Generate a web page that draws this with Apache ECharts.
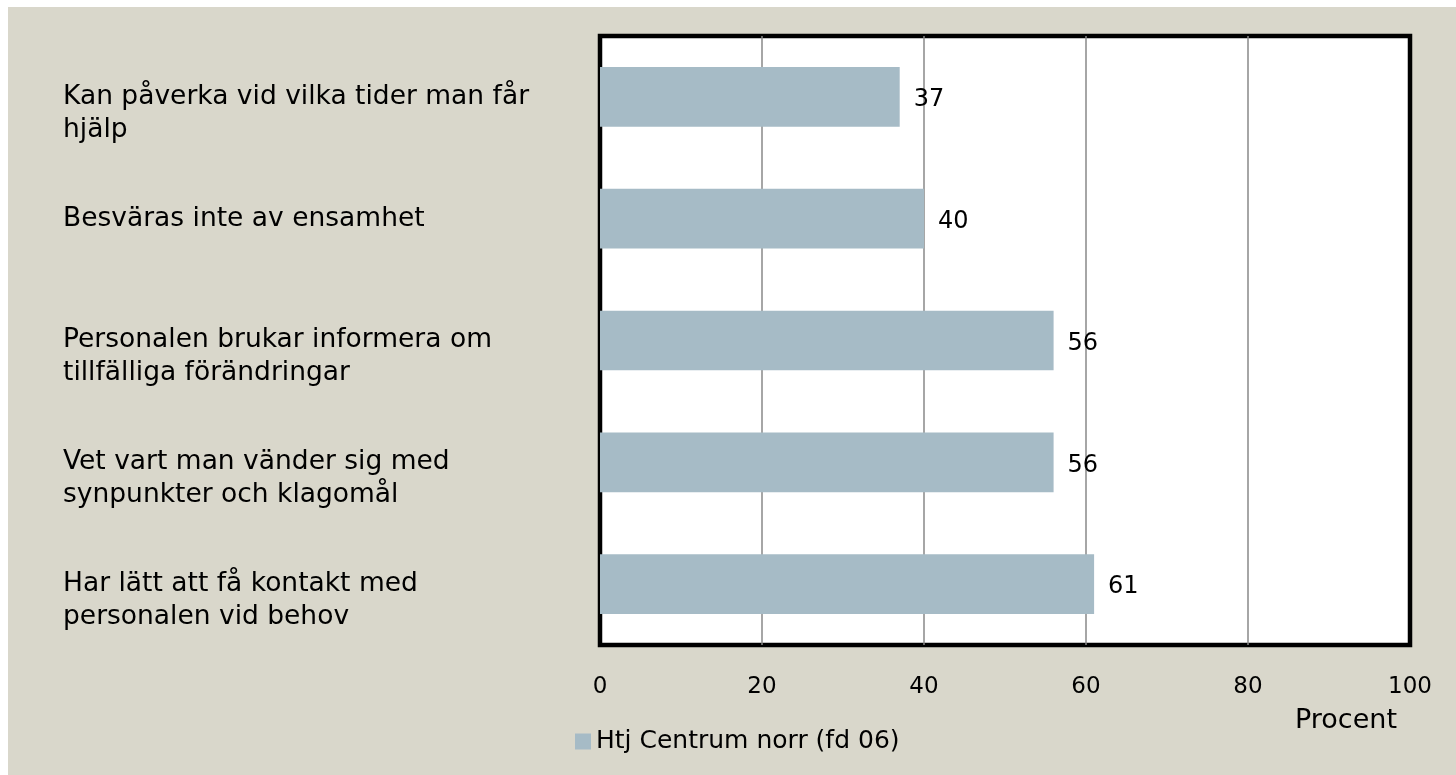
<!DOCTYPE html>
<html>
<head>
<meta charset="utf-8">
<script src="https://cdn.jsdelivr.net/npm/echarts@6/dist/echarts.min.js"></script>
<style>
	html, body { margin: 0; padding: 0; background: #fff; }
	#bar { position: absolute; left: 8px; top: 7px; width: 1448px; height: 768px; }
</style>
</head>
<body>
<div id="bar"></div>
<script>
var categories = [
	'Kan påverka vid vilka tider man får\nhjälp',
	'Besväras inte av ensamhet',
	'Personalen brukar informera om\ntillfälliga förändringar',
	'Vet vart man vänder sig med\nsynpunkter och klagomål',
	'Har lätt att få kontakt med\npersonalen vid behov'
];
var values = [37, 40, 56, 56, 61];
var seriesName = 'Htj Centrum norr (fd 06)';
var xTicks = [0, 20, 40, 60, 80, 100];
var axisTitle = 'Procent';

var font = 'DejaVu Sans';

var myChart = echarts.init(document.getElementById('bar'));

var option = {
	backgroundColor: '#d9d7cb',
	textStyle: { fontFamily: font },
	grid: {
		left: 592,
		top: 29,
		right: 46,
		bottom: 130,
		show: true,
		backgroundColor: '#ffffff',
		borderColor: '#000000',
		borderWidth: 4.5
	},
	legend: {
		left: 567,
		top: 722,
		padding: 0,
		icon: 'rect',
		itemWidth: 16,
		itemHeight: 16,
		itemGap: 7,
		textStyle: { fontFamily: font, fontSize: 25, color: '#000' },
		data: [seriesName]
	},
	graphic: [{
		type: 'text',
		left: 1287,
		top: 700,
		style: { text: axisTitle, font: '27px "' + font + '"', fill: '#000' }
	}],
	xAxis: {
		type: 'value',
		min: xTicks[0],
		max: xTicks[xTicks.length - 1],
		interval: 20,
		axisLine: { show: false },
		axisTick: { show: false },
		axisLabel: { fontSize: 23, color: '#000', margin: 31, fontFamily: font },
		splitLine: {
			show: true,
			showMinLine: false,
			showMaxLine: false,
			lineStyle: { color: '#888888', width: 1.5 }
		}
	},
	yAxis: {
		type: 'category',
		inverse: true,
		data: categories,
		axisLine: { show: false },
		axisTick: { show: false },
		axisLabel: {
			align: 'left',
			margin: 537,
			fontSize: 26.5,
			lineHeight: 33,
			padding: [14, 0, 0, 0],
			color: '#000',
			fontFamily: font,
			formatter: function (v) {
				return v.indexOf('\n') >= 0 ? '\n' + v : v;
			}
		}
	},
	series: [{
		name: seriesName,
		type: 'bar',
		data: values,
		barWidth: '49%',
		itemStyle: { color: '#a6bbc6' },
		label: {
			show: true,
			position: 'right',
			distance: 14,
			offset: [0, 3],
			fontSize: 24,
			color: '#000',
			fontFamily: font
		}
	}]
};

myChart.setOption(option);
</script>
</body>
</html>
